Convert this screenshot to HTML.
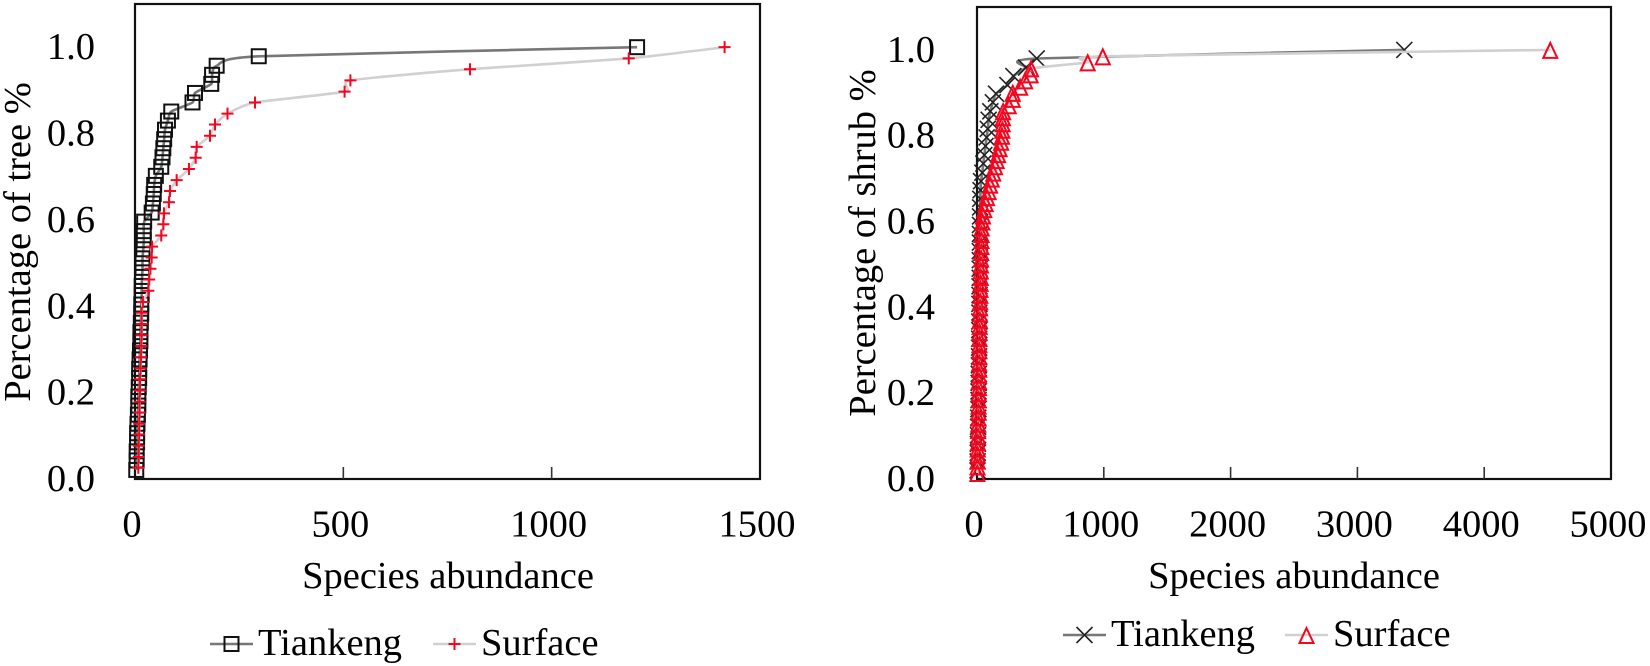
<!DOCTYPE html>
<html lang="en">
<head>
<meta charset="utf-8">
<title>Species abundance curves</title>
<style>
html,body{margin:0;padding:0;background:#fff;}
svg{display:block;filter:blur(0.35px);}
text{font-family:"Liberation Serif",serif;font-size:38.5px;fill:#000;}
</style>
</head>
<body>
<svg id="chart" xmlns="http://www.w3.org/2000/svg" width="1650" height="666" viewBox="0 0 1650 666"></svg>
<script>
// ---- Data: tree panel ----
const treeTiankengX = [3,4,4,5,5,6,7,8,8,9,10,10,11,12,13,13,14,15,15,16,16,17,18,18,20,21,21,22,40,43,45,46,50,63,66,68,70,72,79,87,138,144,183,185,196,297,1205];
const treeTiankengY = [0.021,0.043,0.064,0.085,0.106,0.128,0.149,0.170,0.191,0.213,0.234,0.255,0.277,0.298,0.319,0.340,0.362,0.383,0.404,0.426,0.447,0.468,0.489,0.511,0.532,0.553,0.574,0.596,0.617,0.638,0.660,0.681,0.702,0.723,0.745,0.766,0.787,0.809,0.830,0.851,0.872,0.894,0.915,0.936,0.957,0.979,1.000];
const treeSurfaceX = [8,9,9,10,10,11,11,12,12,13.5,14.5,15,16,16,16,19,32,34,37,40,41,63,68,69.5,81.5,84,100,129.5,145.6,148,180,192,222,288,503,517,804,1185,1415];
const treeSurfaceY = [0.026,0.051,0.077,0.103,0.128,0.154,0.179,0.205,0.231,0.256,0.282,0.308,0.333,0.359,0.385,0.410,0.436,0.462,0.487,0.513,0.538,0.564,0.590,0.615,0.641,0.667,0.692,0.718,0.744,0.769,0.795,0.821,0.846,0.872,0.897,0.923,0.949,0.974,1.000];
// ---- Data: shrub panel ----
const shrubTiankengX = [4,5,6,7,8,9,10,11,12,12,13,14,15,16,17,17,18,18,19,19,20,20,21,21,22,22,23,23,24,24,25,26,28,32,42,50,58,67,76,85,92,105,125,150,240,287,387,471,3370];
const shrubTiankengY = [0.020,0.041,0.061,0.082,0.102,0.122,0.143,0.163,0.184,0.204,0.224,0.245,0.265,0.286,0.306,0.327,0.347,0.367,0.388,0.408,0.429,0.449,0.469,0.490,0.510,0.531,0.551,0.571,0.592,0.612,0.633,0.653,0.673,0.694,0.714,0.735,0.755,0.776,0.796,0.816,0.837,0.857,0.878,0.898,0.918,0.939,0.959,0.980,1.000];
const shrubSurfaceX = [3,4,5,5,6,7,8,9,10,11,12,12,13,14,15,15,16,17,17,18,18,19,19,20,21,22,23,24,25,26,27,28,29,30,31,32,33,34,35,36,37,42,47,57,68,79,91,103,116,128,142,155,166,178,190,197,200,202,204,206,250,282,282,340,379,423,426,873,992,4521];
const shrubSurfaceY = [0.014,0.029,0.043,0.057,0.071,0.086,0.100,0.114,0.129,0.143,0.157,0.171,0.186,0.200,0.214,0.229,0.243,0.257,0.271,0.286,0.300,0.314,0.329,0.343,0.357,0.371,0.386,0.400,0.414,0.429,0.443,0.457,0.471,0.486,0.500,0.514,0.529,0.543,0.557,0.571,0.586,0.600,0.614,0.629,0.643,0.657,0.671,0.686,0.700,0.714,0.729,0.743,0.757,0.771,0.786,0.800,0.814,0.829,0.843,0.857,0.871,0.886,0.900,0.914,0.929,0.943,0.957,0.971,0.985,1.000];
// ---- Tick labels ----
const yTickLabels = ["0.0","0.2","0.4","0.6","0.8","1.0"];
const treeXTicks = [0,500,1000,1500];
const shrubXTicks = [0,1000,2000,3000,4000,5000];

const NS = "http://www.w3.org/2000/svg";
const svg = document.getElementById("chart");

function add(parent, tag, attrs, txt) {
  const el = document.createElementNS(NS, tag);
  for (const k in attrs) el.setAttribute(k, attrs[k]);
  if (txt !== undefined) el.textContent = txt;
  parent.appendChild(el);
  return el;
}
function scale(d0, d1, p0, p1) {
  return v => p0 + (v - d0) * (p1 - p0) / (d1 - d0);
}
function smoothPath(pts) {
  let d = "M" + pts[0][0].toFixed(1) + " " + pts[0][1].toFixed(1);
  for (let i = 0; i < pts.length - 1; i++) {
    const p0 = pts[Math.max(i - 1, 0)], p1 = pts[i], p2 = pts[i + 1], p3 = pts[Math.min(i + 2, pts.length - 1)];
    const c1x = p1[0] + (p2[0] - p0[0]) / 10, c1y = p1[1] + (p2[1] - p0[1]) / 10;
    const c2x = p2[0] - (p3[0] - p1[0]) / 10, c2y = p2[1] - (p3[1] - p1[1]) / 10;
    d += "C" + [c1x, c1y, c2x, c2y, p2[0], p2[1]].map(n => n.toFixed(1)).join(" ");
  }
  return d;
}
function marker(g, kind, cx, cy) {
  let el;
  if (kind === "square") {
    el = add(g, "rect", {x: cx - 7, y: cy - 7, width: 14, height: 14, fill: "none", stroke: "#111", "stroke-width": 2});
  } else if (kind === "plus") {
    el = add(g, "path", {d: `M${cx - 6} ${cy}H${cx + 6}M${cx} ${cy - 6}V${cy + 6}`, fill: "none", stroke: "#f5051e", "stroke-width": 2});
  } else if (kind === "cross") {
    el = add(g, "path", {d: `M${cx - 8} ${cy - 8}L${cx + 8} ${cy + 8}M${cx - 8} ${cy + 8}L${cx + 8} ${cy - 8}`, fill: "none", stroke: "#222", "stroke-width": 1.6});
  } else {
    el = add(g, "path", {d: `M${cx} ${cy - 7}L${cx + 7} ${cy + 8}H${cx - 7}Z`, fill: "none", stroke: "#f5051e", "stroke-width": 2});
  }
  
  
}
function series(g, name, xs, ys, sx, sy, color, kind) {
  const sg = add(g, "g", {});
  
  
  const pts = xs.map((v, i) => [sx(v), sy(ys[i])]);
  const line = add(sg, "path", {d: smoothPath(pts), fill: "none", stroke: color, "stroke-width": 2.6});
  
  
  pts.forEach(p => marker(sg, kind, p[0], p[1]));
}
function panel(o) {
  const g = add(svg, "g", {});
  
  
  const sx = scale(0, o.xMax, o.left, o.right);
  const sy = scale(0, 1.1, o.bottom, o.top);
  const frame = add(g, "rect", {x: o.left, y: o.top, width: o.right - o.left, height: o.bottom - o.top, fill: "none", stroke: "#111", "stroke-width": 2.2});
  
  
  o.xTicks.forEach(t => {
    const px = sx(t);
    if (t > 0 && t < o.xMax) {
      const tk = add(g, "line", {x1: px, x2: px, y1: o.bottom, y2: o.bottom - 12, stroke: "#333", "stroke-width": 1.6});
      
      
    }
    const lb = add(g, "text", {x: px - 3, y: 536.5, "text-anchor": "middle"}, String(t));
    
    
  });
  yTickLabels.forEach(t => {
    const lb = add(g, "text", {x: o.yLabelX, y: sy(parseFloat(t)) + o.yLabelDy, "text-anchor": "end"}, t);
    
    
  });
  const xt = add(g, "text", {x: o.xTitleX, y: 588, "text-anchor": "middle"}, "Species abundance");
  
  
  const yt = add(g, "text", {x: 0, y: 0, "text-anchor": "middle", transform: `translate(${o.yTitleX} ${o.yTitleY}) rotate(-90)`}, o.yTitle);
  
  
  series(g, "tiankeng-series", o.tX, o.tY, sx, sy, "#777", o.tKind);
  series(g, "surface-series", o.sX, o.sY, sx, sy, "#d0d0d0", o.sKind);
  // legend
  const lg = add(g, "g", {});
  
  
  const e1 = add(lg, "g", {});
  
  
  add(e1, "line", {x1: o.lg[0], x2: o.lg[0] + 43, y1: o.lgY, y2: o.lgY, stroke: "#777", "stroke-width": 2.6});
  marker(e1, o.tKind, o.lg[0] + 21.5, o.lgY);
  add(e1, "text", {x: o.lg[0] + 48, y: o.lgY + 11}, "Tiankeng");
  const e2 = add(lg, "g", {});
  
  
  add(e2, "line", {x1: o.lg[1], x2: o.lg[1] + 43, y1: o.lgY, y2: o.lgY, stroke: "#d0d0d0", "stroke-width": 2.6});
  marker(e2, o.sKind, o.lg[1] + 21.5, o.lgY);
  add(e2, "text", {x: o.lg[1] + 48, y: o.lgY + 11}, "Surface");
}

panel({
  name: "tree-panel", left: 135, right: 760, top: 4, bottom: 479, xMax: 1500,
  xTicks: treeXTicks, yLabelX: 95, yLabelDy: 12, xTitleX: 448, yTitleX: 30, yTitleY: 242,
  yTitle: "Percentage of tree %",
  tX: treeTiankengX, tY: treeTiankengY, sX: treeSurfaceX, sY: treeSurfaceY,
  tKind: "square", sKind: "plus", lg: [210, 433], lgY: 644
});
panel({
  name: "shrub-panel", left: 977, right: 1611, top: 7, bottom: 479, xMax: 5000,
  xTicks: shrubXTicks, yLabelX: 935, yLabelDy: 12, xTitleX: 1294, yTitleX: 875, yTitleY: 243,
  yTitle: "Percentage of shrub %",
  tX: shrubTiankengX, tY: shrubTiankengY, sX: shrubSurfaceX, sY: shrubSurfaceY,
  tKind: "cross", sKind: "triangle", lg: [1063, 1285], lgY: 635
});
</script>
</body>
</html>
